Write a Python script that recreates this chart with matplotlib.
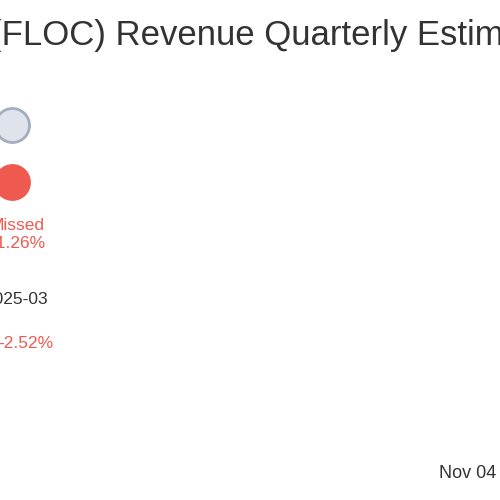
import matplotlib
matplotlib.use("Agg")
import matplotlib.pyplot as plt

title = "(FLOC) Revenue Quarterly Estimates"
status = "Missed"
surprise = "-1.26%"
period = "2025-03"
change = "-2.52%"
date_label = "Nov 04"
marker_labels = ["Estimate", "Actual"]
marker_colors = ["#dfe4ec", "#ee5a50"]
marker_edges = ["#a4adbd", "#ee5a50"]

plt.rcParams['font.family'] = ['Liberation Sans', 'DejaVu Sans']
fig = plt.figure(figsize=(5, 5), dpi=100)
ax = fig.add_axes([0, 0, 1, 1])
ax.set_xlim(0, 500)
ax.set_ylim(500, 0)
ax.axis('off')

ax.text(-10, 35, title, fontsize=25, color="#333333", ha='left', va='center')
for i, (c, e) in enumerate(zip(marker_colors, marker_edges)):
    ax.scatter([12], [125 + 57 * i], s=600, color=c, edgecolors=e, linewidths=2, zorder=3)
ax.text(45, 226, status, fontsize=12.5, color="#ee5a50", ha='right', va='center')
ax.text(45, 244, surprise, fontsize=12.5, color="#ee5a50", ha='right', va='center')
ax.text(48, 300, period, fontsize=12.5, color="#333333", ha='right', va='center')
ax.text(53, 343, change, fontsize=12.5, color="#ee5a50", ha='right', va='center')
ax.text(496, 473, date_label, fontsize=13, color="#333333", ha='right', va='center')
fig.savefig("out.png", dpi=100)
